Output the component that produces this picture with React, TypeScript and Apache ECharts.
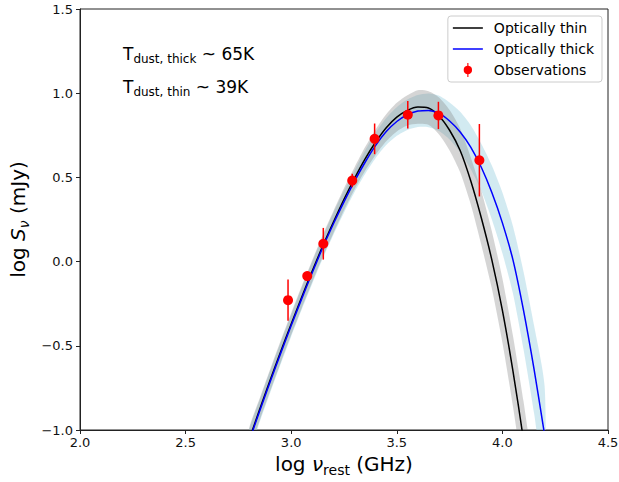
import React, { useEffect, useRef } from 'react';
import * as echarts from 'echarts';

// log rest-frame frequency grid (GHz) on which the model curves were read
const curveX = [2.80, 2.85, 2.90, 2.95, 3.00, 3.05, 3.10, 3.15, 3.20, 3.25, 3.30, 3.35, 3.40, 3.45, 3.50, 3.55, 3.60, 3.65, 3.70, 3.75, 3.80, 3.85, 3.90, 3.95, 4.00, 4.05, 4.10, 4.15, 4.20];
// optically thin model (black)
const thinY = [-1.06, -0.88, -0.705, -0.535, -0.37, -0.21, -0.055, 0.095, 0.235, 0.37, 0.495, 0.61, 0.71, 0.795, 0.858, 0.898, 0.918, 0.912, 0.865, 0.78, 0.66, 0.48, 0.26, 0.01, -0.29, -0.65, -1.06, -1.52, -2.0];
// optically thick model (blue)
const thickY = [-1.07, -0.89, -0.715, -0.545, -0.38, -0.22, -0.065, 0.085, 0.225, 0.355, 0.478, 0.59, 0.69, 0.772, 0.832, 0.872, 0.894, 0.898, 0.88, 0.835, 0.77, 0.68, 0.56, 0.41, 0.23, 0.01, -0.29, -0.64, -1.03];
// half widths of the shaded uncertainty bands
const thinBand = [0.065, 0.065, 0.065, 0.065, 0.065, 0.065, 0.065, 0.065, 0.065, 0.065, 0.065, 0.07, 0.075, 0.08, 0.085, 0.09, 0.10, 0.10, 0.11, 0.12, 0.13, 0.14, 0.16, 0.17, 0.19, 0.21, 0.23, 0.25, 0.27];
const thickBand = [0.065, 0.065, 0.065, 0.065, 0.065, 0.065, 0.065, 0.065, 0.065, 0.065, 0.065, 0.07, 0.075, 0.08, 0.085, 0.09, 0.095, 0.10, 0.105, 0.11, 0.12, 0.13, 0.14, 0.16, 0.18, 0.20, 0.23, 0.26, 0.29];
// observations
const obsX = [2.985, 3.076, 3.152, 3.289, 3.395, 3.552, 3.697, 3.891];
const obsY = [-0.229, -0.086, 0.106, 0.481, 0.729, 0.872, 0.868, 0.602];
const obsErr = [0.122, 0.025, 0.094, 0.04, 0.091, 0.082, 0.081, 0.215];

const xTicks = [2.0, 2.5, 3.0, 3.5, 4.0, 4.5];
const yTicks = [-1.0, -0.5, 0.0, 0.5, 1.0, 1.5];

const FONT = 'DejaVu Sans';

const fmt = (v: number) => (v < 0 ? '\u2212' + Math.abs(v).toFixed(1) : v.toFixed(1));

function bandSeries(ys: number[], half: number[], color: string, z: number) {
  return {
    type: 'custom',
    silent: true,
    clip: true,
    z,
    data: curveX.map((x, i) => [x, ys[i] - half[i], ys[i] + half[i]]),
    encode: { x: 0, y: [1, 2] },
    renderItem: (params: any, api: any) => {
      if (params.dataIndex !== 0) return null;
      const upper = curveX.map((x, i) => api.coord([x, ys[i] + half[i]]));
      const lower = curveX.map((x, i) => api.coord([x, ys[i] - half[i]])).reverse();
      return {
        type: 'polygon',
        shape: { points: upper.concat(lower), smooth: 0.25 },
        style: { fill: color, stroke: 'none' },
      };
    },
  };
}

const nameRich = {
  a: { fontSize: 20, fontFamily: FONT, color: '#000', lineHeight: 26 },
  i: { fontSize: 20, fontFamily: FONT, fontStyle: 'italic', color: '#000', lineHeight: 26 },
  s: { fontSize: 14, fontFamily: FONT, color: '#000', lineHeight: 14, verticalAlign: 'bottom' },
  si: { fontSize: 14, fontFamily: FONT, fontStyle: 'italic', color: '#000', lineHeight: 14, verticalAlign: 'bottom' },
};

const annRich = {
  m: { fontSize: 17, fontFamily: FONT, color: '#000', lineHeight: 22 },
  s: { fontSize: 12, fontFamily: FONT, color: '#000', lineHeight: 12, verticalAlign: 'bottom' },
};

const LINE_ICON = 'path://M0,0H30V1.5H0Z';

export default function App() {
  const ref = useRef<HTMLDivElement>(null);
  useEffect(() => {
    if (!ref.current) return;
    const chart = echarts.init(ref.current, undefined, { renderer: 'svg' });
    const axisColor = '#222';
    chart.setOption({
      animation: false,
      backgroundColor: '#fff',
      textStyle: { fontFamily: FONT },
      grid: {
        left: 80, right: 11, top: 9, bottom: 52,
        outerBoundsMode: 'none',
        containLabel: false,
        show: true, borderColor: axisColor, borderWidth: 1, backgroundColor: 'transparent',
      },
      legend: {
        orient: 'vertical',
        right: 17,
        top: 16,
        padding: [5, 8, 5, 5],
        itemGap: 7,
        itemWidth: 30,
        itemHeight: 14,
        symbolKeepAspect: true,
        borderColor: '#cccccc',
        borderWidth: 1,
        borderRadius: 3,
        backgroundColor: 'rgba(255,255,255,0.8)',
        textStyle: { fontSize: 14, fontFamily: FONT, color: '#000', padding: [0, 0, 0, 6] },
        data: [
          { name: 'Optically thin', icon: LINE_ICON },
          { name: 'Optically thick', icon: LINE_ICON },
          { name: 'Observations', icon: 'path://M4.6,0H5.4V2.03A3,3 0 0 1 5.4,7.97V10H4.6V7.97A3,3 0 0 1 4.6,2.03Z' },
        ],
      },
      xAxis: {
        type: 'value',
        min: xTicks[0],
        max: xTicks[xTicks.length - 1],
        interval: 0.5,
        axisLine: { show: true, onZero: false, lineStyle: { color: axisColor, width: 1 } },
        axisTick: { show: true, inside: false, length: 4, lineStyle: { color: axisColor } },
        axisLabel: { formatter: fmt, fontSize: 13, color: '#111', margin: 6, fontFamily: FONT },
        splitLine: { show: false },
        name: '{a|log }{i|\u03bd}{s|rest}{a| (GHz)}',
        nameLocation: 'middle',
        nameGap: 14,
        nameTextStyle: { rich: nameRich },
      },
      yAxis: {
        type: 'value',
        min: yTicks[0],
        max: yTicks[yTicks.length - 1],
        interval: 0.5,
        axisLine: { show: true, onZero: false, lineStyle: { color: axisColor, width: 1 } },
        axisTick: { show: true, inside: false, length: 4, lineStyle: { color: axisColor } },
        axisLabel: { formatter: fmt, fontSize: 13, color: '#111', margin: 7, fontFamily: FONT },
        splitLine: { show: false },
        name: '{a|log }{i|S}{si|\u03bd}{a| (mJy)}',
        nameLocation: 'middle',
        nameRotate: 90,
        nameGap: 45,
        nameTextStyle: { rich: nameRich },
      },
      graphic: [
        {
          type: 'text', left: 123, top: 45, silent: true,
          style: { text: '{m|T}{s|dust, thick}{m| ~ 65K}', rich: annRich, fill: '#000' },
        },
        {
          type: 'text', left: 123, top: 78, silent: true,
          style: { text: '{m|T}{s|dust, thin}{m| ~ 39K}', rich: annRich, fill: '#000' },
        },
      ],
      series: [
        bandSeries(thickY, thickBand, 'rgba(173,216,230,0.55)', 1),
        bandSeries(thinY, thinBand, 'rgba(128,128,128,0.33)', 1),
        {
          type: 'line', name: 'Optically thin', symbol: 'none', smooth: 0.3, z: 3,
          data: curveX.map((x, i) => [x, thinY[i]]),
          lineStyle: { color: '#000000', width: 1.5 }, itemStyle: { color: '#000000' },
        },
        {
          type: 'line', name: 'Optically thick', symbol: 'none', smooth: 0.3, z: 4,
          data: curveX.map((x, i) => [x, thickY[i]]),
          lineStyle: { color: '#0000ff', width: 1.5 }, itemStyle: { color: '#0000ff' },
        },
        {
          type: 'custom', silent: true, z: 5,
          data: obsX.map((x, i) => [x, obsY[i], obsErr[i]]),
          encode: { x: 0, y: 1 },
          renderItem: (params: any, api: any) => {
            const x = api.value(0), y = api.value(1), e = api.value(2);
            const t = api.coord([x, y + e]);
            const b = api.coord([x, y - e]);
            return {
              type: 'line',
              shape: { x1: t[0], y1: t[1], x2: b[0], y2: b[1] },
              style: { stroke: '#ff0000', lineWidth: 1.5 },
            };
          },
        },
        {
          type: 'scatter', name: 'Observations', z: 6, symbol: 'circle', symbolSize: 10,
          data: obsX.map((x, i) => [x, obsY[i]]),
          itemStyle: { color: '#ff0000', opacity: 1 },
        },
      ],
    });
    return () => chart.dispose();
  }, []);
  return <div ref={ref} style={{ position: 'fixed', left: 0, top: 0, width: 619, height: 482 }} />;
}
